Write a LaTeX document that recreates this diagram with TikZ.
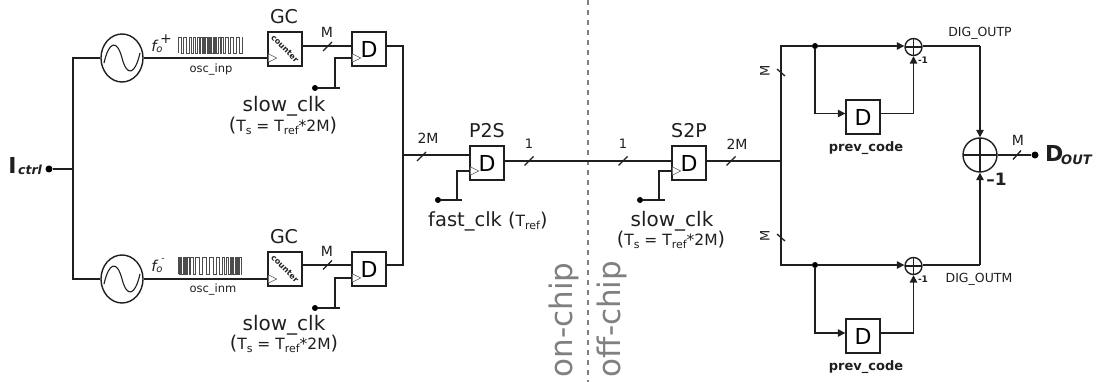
\documentclass[tikz,border=0pt]{standalone}
\usepackage{fontspec}
\setmainfont{DejaVu Sans}
\usetikzlibrary{shapes.geometric,arrows.meta}
\newcommand{\fz}[1]{\fontsize{#1}{#1}\selectfont}
\newcommand{\lowsub}[2]{\raisebox{-#2pt}{\fz{11}#1}}
\newcommand{\tsline}{{\fz{19}(}T\lowsub{s}{3} = T\lowsub{ref}{3}*2M{\fz{19})}}
\tikzset{
 wire/.style={line width=1.4pt,draw=black!88},
 tipwire/.style={line width=1.4pt,draw=black!88,fill=none,arrows={-Stealth[length=7.5pt,width=7.5pt,inset=0pt]}},
 dff/.style={draw=black!88,line width=1.4pt,rectangle,minimum size=34pt,inner sep=0pt,font=\fz{22}},
 osc/.style={draw=black!88,line width=1.4pt,ellipse,minimum width=42pt,minimum height=48pt,inner sep=0pt,fill=white},
 dotn/.style={circle,fill=black,inner sep=0pt,minimum size=7pt},
 txt/.style={inner sep=0pt,text=black!88},
 sumn/.style={circle,draw=black!88,line width=1.4pt,inner sep=0pt,fill=white,
   path picture={\draw[line width=1.1pt,draw=black!88] (path picture bounding box.north)--(path picture bounding box.south)
   (path picture bounding box.west)--(path picture bounding box.east);}},
 clkmark/.style={draw=black!65,line width=0.6pt,fill=white},
 wave/.style={draw=black!70,line width=0.45pt},
 grayt/.style={inner sep=0pt,text=black!50,font=\fz{31},rotate=90},
 slash/.style={line width=1.3pt,draw=black!88}
}
\begin{document}
\begin{tikzpicture}[x=1pt,y=-1pt]
\useasboundingbox (0,0) rectangle (1096,382);
% divider
\coordinate (divT) at (588,0);
\coordinate (divB) at (588,382);
\draw[draw=black!50,line width=1.1pt,dash pattern=on 5pt off 5pt] (divT) -- (divB);
% nodes
\node[dotn] (ictrl) at (49,169) {};
\coordinate (rail) at (73,169);
\node[osc] (oscT) at (122,58) {};
\node[osc] (oscB) at (122,279) {};
\node[dff] (cntT) at (285,49) {};
\node[dff] (cntB) at (285,269) {};
\node[dff] (dT) at (369,49) {D};
\node[dff] (dB) at (369,269) {D};
\node[dff] (p2s) at (487,163) {D};
\node[dff] (s2p) at (689,163) {D};
\node[dff] (pcT) at (863,117) {D};
\node[dff] (pcB) at (863,336) {D};
\node[sumn,minimum size=17pt] (xT) at (913.5,47) {};
\node[sumn,minimum size=17pt] (xB) at (913.5,266) {};
\node[sumn,minimum size=34pt] (xO) at (980,155) {};
\node[dotn] (dout) at (1035,155) {};
\node[dotn,minimum size=6pt] (clkT) at (315,88) {};
\node[dotn,minimum size=6pt] (clkB) at (315,308) {};
\node[dotn,minimum size=6pt] (clkP) at (438,200) {};
\node[dotn,minimum size=6pt] (clkS) at (640,200) {};
\node[dotn,minimum size=6pt] (jT) at (815,46) {};
\node[dotn,minimum size=6pt] (jB) at (815,265) {};
% wires
\draw[wire] (ictrl) -- (rail);
\draw[wire] (oscT.west) -- (73,58) -- (73,279) -- (oscB.west);
\draw[wire] (oscT.east) -- (268,58);
\draw[wire] (oscB.east) -- (268,279);
\draw[wire] (302,46) -- (352,46);
\draw[wire] (302,265) -- (352,265);
\draw[wire] (386,46) -- (403,46) -- (403,265) -- (386,265);
\draw[wire] (403,155) -- (470,155);
\draw[wire] (p2s.east |- 0,161) -- (s2p.west |- 0,161);
\draw[wire] (706,161) -- (781,161);
\draw[wire] (jT) -- (781,46) -- (781,265) -- (jB);
\draw[tipwire] (jT) -- (xT.west |- jT);
\draw[tipwire] (jB) -- (xB.west |- jB);
\draw[tipwire] (jT) -- (815,113.5) -- (pcT.west |- 0,113.5);
\draw[tipwire] (jB) -- (815,333) -- (pcB.west |- 0,333);
\draw[tipwire] (880,113.5) -- (xT.south |- 0,113.5) -- (xT.south);
\draw[tipwire] (880,333) -- (xB.south |- 0,333) -- (xB.south);
\draw[wire] (xT.east |- jT) -- (980,46);
\draw[tipwire] (980,46) -- (xO.north);
\draw[wire] (xB.east |- jB) -- (980,265);
\draw[tipwire] (980,265) -- (xO.south);
\draw[wire] (xO.east) -- (dout);
% clock inputs
\draw[wire] (clkT) -- (340,88) (335,88) -- (335,58) -- (352,58);
\draw[wire] (clkB) -- (340,308) (335,308) -- (335,278) -- (352,278);
\draw[wire] (clkP) -- (462,200) (457,200) -- (457,171) -- (470,171);
\draw[wire] (clkS) -- (665,200) (659,200) -- (659,171) -- (672,171);
% clock triangles
\foreach \n/\x/\y in {a/268.7/58,b/268.7/279,c/352.7/58,d/352.7/278,e/470.7/171,f/672.7/171}
  \draw[clkmark] (\x,\y-4) -- (\x+8,\y) -- (\x,\y+4);
% sine waves
\foreach \n in {oscT,oscB}{
  \draw[wire,line width=1.1pt] ([shift={(-18,5)}]\n.center) .. controls ([shift={(-13,-17)}]\n.center) and ([shift={(-5,-19)}]\n.center) .. (\n.center) .. controls ([shift={(5,19)}]\n.center) and ([shift={(13,17)}]\n.center) .. ([shift={(18,-5)}]\n.center);
}
% waveforms
\draw[wave] (178,53)
 \foreach \a/\b in {178/181,183.5/186.5,189/191.5,193.5/195.5,197.5/199,200.5/202,203.2/204.4,205.6/206.8,208/209.2,210.4/211.6,212.8/214,215.2/216.6,218/219.8,221.6/223.6,225.6/228,230.5/233.5,236/239}{ -- (\a,53) -- (\a,37) -- (\b,37) -- (\b,53)} -- (242,53) -- (242,37);
\draw[wave] (178,274)
 \foreach \a/\b in {178/179.2,180.4/181.6,182.8/184,185.2/186.4,187.6/189,190.5/193,195.5/199,202/206,209/213,216/219.5,222/224.5,226.5/228.5,230/231.2,232.4/233.6,234.8/236,237.2/238.4,239.6/240.8}{ -- (\a,274) -- (\a,257) -- (\b,257) -- (\b,274)} -- (241.5,274) -- (241.5,257);
% bus slashes
\foreach \x/\y in {327.5/46.5,327.5/265,421.5/156.5,529/161,623/161,731/161}
  \draw[slash] (\x-4.5,\y+4.5) -- (\x+4.5,\y-4.5);
\foreach \y in {72.5,237.5}
  \draw[slash] (777,\y-3.5) -- (785,\y+3.5);
\draw[slash] (1013,159.5) -- (1021,150.5);
% labels
\node[txt,font=\bfseries\fz{22}] at (12.5,165) {I};
\node[txt,font=\bfseries\itshape\fz{12.5},anchor=west] at (18,170) {ctrl};
\node[txt,font=\itshape\fz{15}] at (154,46) {f};
\node[txt,font=\itshape\fz{10}] at (159.5,50) {o};
\node[txt,font=\fz{14}] at (166,39) {+};
\node[txt,font=\itshape\fz{15}] at (154,266) {f};
\node[txt,font=\itshape\fz{10}] at (159.5,270) {o};
\node[txt,font=\fz{9}] at (163,260) {-};
\node[txt,font=\fz{11.5}] at (211,69) {osc\_inp};
\node[txt,font=\fz{11.5}] at (213,289) {osc\_inm};
\node[txt,font=\fz{19}] at (284,17) {GC};
\node[txt,font=\fz{19}] at (284,237) {GC};
\node[txt,font=\bfseries\fz{8},rotate=-45] at (285,49) {counter};
\node[txt,font=\bfseries\fz{8},rotate=-45] at (285,269) {counter};
\node[txt,font=\fz{14}] at (327,32) {M};
\node[txt,font=\fz{14}] at (327,251) {M};
\node[txt,font=\fz{20}] at (284,106) {slow\_clk};
\node[txt,font=\fz{15.5}] at (283,126) {\tsline};
\node[txt,font=\fz{20}] at (284,325) {slow\_clk};
\node[txt,font=\fz{15.5}] at (284,344) {\tsline};
\node[txt,font=\fz{14}] at (428,138) {2M};
\node[txt,font=\fz{19}] at (487,131) {P2S};
\node[txt,font=\fz{13}] at (529,144) {1};
\node[txt,font=\fz{13}] at (623,144) {1};
\node[txt,font=\fz{19}] at (689,131) {S2P};
\node[txt,font=\fz{14}] at (737,144) {2M};
\node[txt,font=\fz{19.5},anchor=west] at (428,221) {fast\_clk\ {\fz{15.5}{\fz{19}(}T\lowsub{ref}{3}{\fz{19})}}};
\node[txt,font=\fz{20}] at (672,221) {slow\_clk};
\node[txt,font=\fz{15.5}] at (671,240) {\tsline};
\node[grayt] at (564,320) {on-chip};
\node[grayt] at (612,319) {off-chip};
\node[txt,font=\fz{13},rotate=90] at (765,71) {M};
\node[txt,font=\fz{13},rotate=90] at (765,236) {M};
\node[txt,font=\fz{12.5}] at (980,33) {DIG\_OUTP};
\node[txt,font=\fz{12.5}] at (979,279) {DIG\_OUTM};
\node[txt,font=\bfseries\fz{9}] at (923,60) {-1};
\node[txt,font=\bfseries\fz{9}] at (923,279) {-1};
\node[txt,font=\bfseries\fz{13}] at (866,148) {prev\_code};
\node[txt,font=\bfseries\fz{13}] at (866,367) {prev\_code};
\node[txt,font=\fz{14}] at (1018,140) {M};
\node[txt,font=\bfseries\fz{17}] at (996.5,179) {–1};
\node[txt,font=\bfseries\fz{22},anchor=west] at (1045,153) {D};
\node[txt,font=\bfseries\itshape\fz{13},anchor=west] at (1061,160) {OUT};
\end{tikzpicture}
\end{document}
